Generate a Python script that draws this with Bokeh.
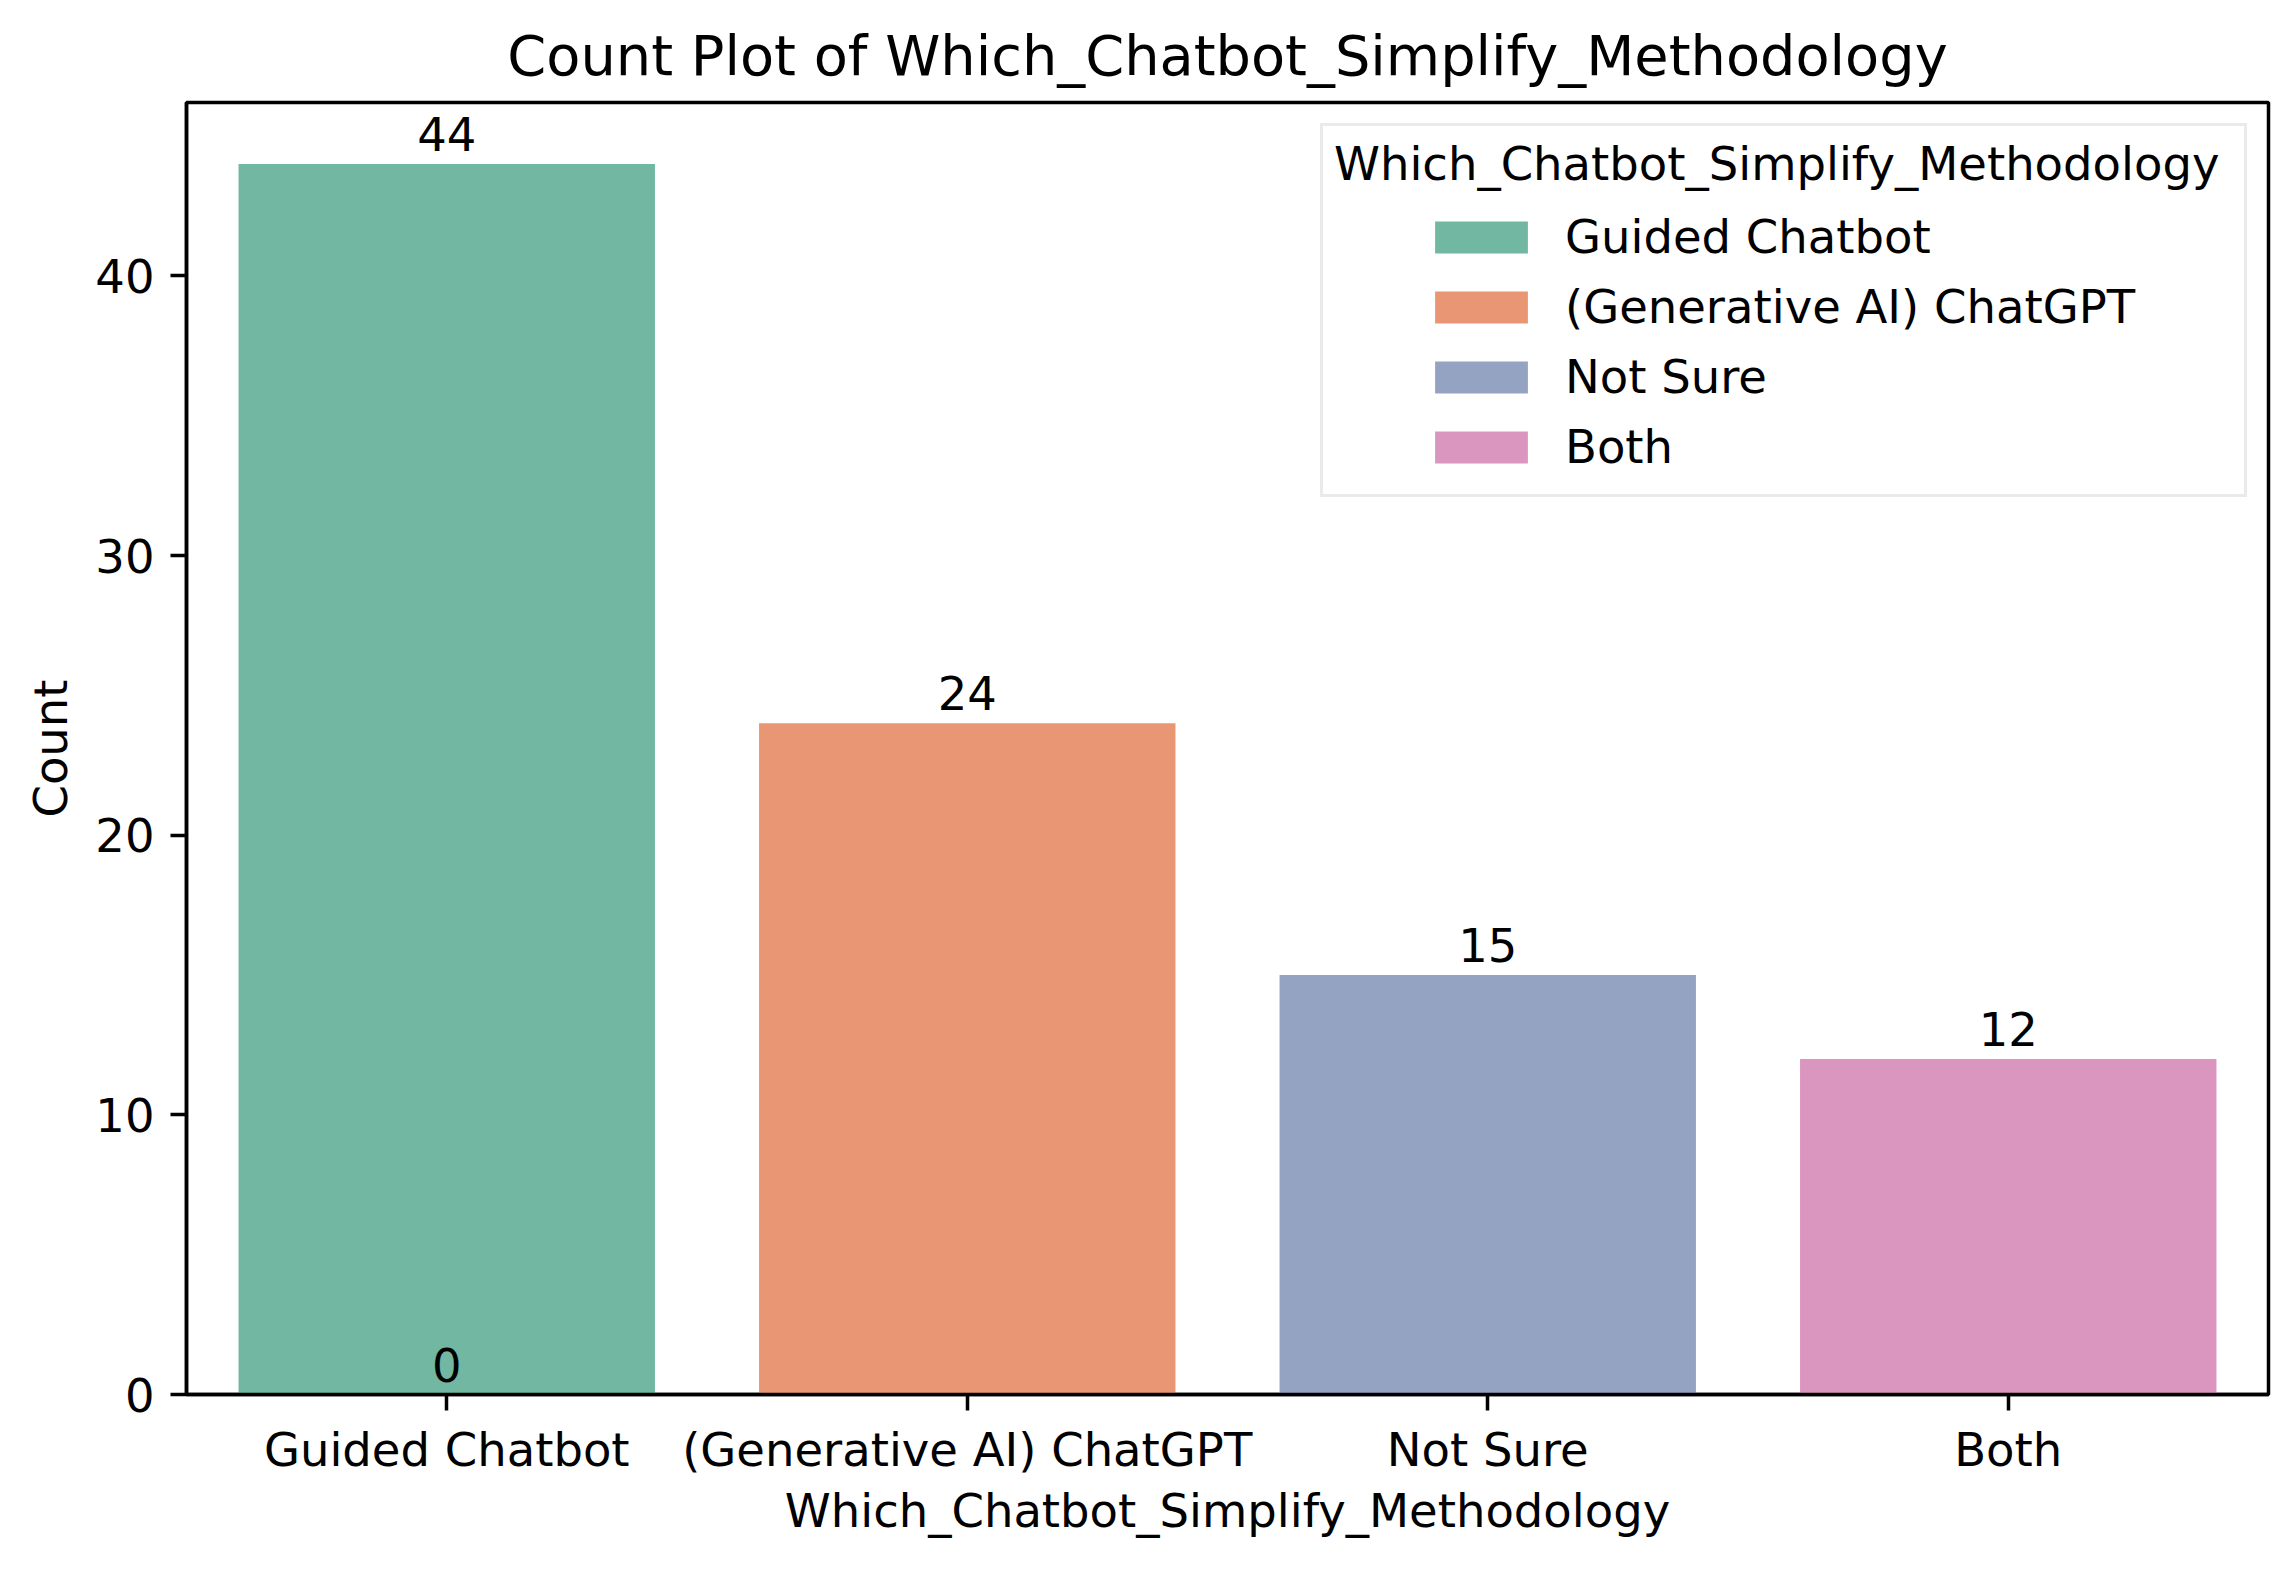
from bokeh.plotting import figure
from bokeh.models import FactorRange, Range1d, FixedTicker, Legend, LegendItem, ColumnDataSource
from bokeh.core.properties import value
from bokeh.embed import file_html
from bokeh.resources import INLINE

# ---- data ----
categories = ["Guided Chatbot", "(Generative AI) ChatGPT", "Not Sure", "Both"]
counts = [44, 24, 15, 12]
bar_colors = ["#71b7a1", "#e99675", "#95a3c3", "#db96c0"]
# labels written by the bar-label call (one empty container gives a "0")
label_categories = ["Guided Chatbot", "(Generative AI) ChatGPT", "Not Sure", "Both", "Guided Chatbot"]
label_values = [44, 24, 15, 12, 0]
y_ticks = [0, 10, 20, 30, 40]
title_text = "Count Plot of Which_Chatbot_Simplify_Methodology"
x_label = "Which_Chatbot_Simplify_Methodology"
y_label = "Count"
legend_title = "Which_Chatbot_Simplify_Methodology"

FONT = "DejaVu Sans"
FS = "46.5px"
LW = 3.5

p = figure(width=2273, height=1555, output_backend="svg", toolbar_location=None,
           x_range=FactorRange(*categories, range_padding=0),
           y_range=Range1d(0, max(counts) * 1.05),
           min_border_left=186, min_border_right=5, min_border_top=102, min_border_bottom=161)
p.background_fill_color = "white"
p.border_fill_color = "white"
p.xgrid.visible = False
p.ygrid.visible = False
p.outline_line_color = "black"
p.outline_line_width = LW

p.title.text = title_text
p.title.text_font = FONT
p.title.text_font_size = "55.8px"
p.title.text_font_style = "normal"
p.title.text_color = "black"
p.title.align = "center"
p.title.standoff = 30

renderers = []
for i, c in enumerate(categories):
    r = p.vbar(x=[c], top=[counts[i]], width=0.8, fill_color=bar_colors[i], line_color=None)
    renderers.append(r)
# invisible twin used only to size the legend frame (items are drawn by a second legend)
ghost = p.vbar(x=categories, top=counts, width=0.8, fill_alpha=0, line_alpha=0)

lsrc = ColumnDataSource(dict(x=label_categories, y=label_values, t=[str(v) for v in label_values]))
p.text(x="x", y="y", text="t", source=lsrc, text_align="center", text_baseline="bottom",
       y_offset=-13, text_font=value(FONT), text_font_size=value(FS), text_color="black")

for ax in (p.xaxis[0], p.yaxis[0]):
    ax.axis_line_color = "black"
    ax.axis_line_width = LW
    ax.major_tick_line_color = "black"
    ax.major_tick_line_width = LW
    ax.major_tick_in = 0
    ax.major_tick_out = 16
    ax.minor_tick_line_color = None
    ax.major_label_text_font = FONT
    ax.major_label_text_font_size = FS
    ax.major_label_text_color = "black"
    ax.axis_label_text_font = FONT
    ax.axis_label_text_font_size = FS
    ax.axis_label_text_font_style = "normal"
    ax.axis_label_text_color = "black"

p.yaxis[0].ticker = FixedTicker(ticks=y_ticks)
p.yaxis[0].axis_label = y_label
p.yaxis[0].major_label_standoff = 16
p.yaxis[0].axis_label_standoff = 14
p.xaxis[0].axis_label = x_label
p.xaxis[0].major_label_standoff = 12
p.xaxis[0].axis_label_standoff = 4
p.xaxis[0].major_label_orientation = "horizontal"

GW, GH, SP = 116, 40, 16

# legend frame + title (rows kept blank; the visible rows come from the second legend)
frame_items = [LegendItem(label=" ", renderers=[ghost]) for c in categories]
legend_frame = Legend(items=frame_items, location="top_right", title=legend_title,
                      title_text_font=FONT, title_text_font_size=FS, title_text_font_style="normal",
                      title_text_color="black", title_standoff=22,
                      label_text_font=FONT, label_text_font_size=FS, label_text_alpha=0,
                      glyph_width=GW, glyph_height=54, label_standoff=26, label_width=757,
                      spacing=18, padding=11,
                      margin=21, border_line_color="#d6d6d6", border_line_width=LW,
                      background_fill_color="white", background_fill_alpha=0.8)
p.add_layout(legend_frame)

# visible items, centred under the title as in the original
items = [LegendItem(label=c, renderers=[renderers[i]]) for i, c in enumerate(categories)]
legend_items = Legend(items=items, location="top_right",
                      label_text_font=FONT, label_text_font_size=FS, label_text_color="black",
                      glyph_width=GW, glyph_height=GH, label_standoff=26, label_width=595,
                      spacing=SP, padding=0, margin=108,
                      border_line_alpha=0, background_fill_alpha=0)
p.add_layout(legend_items)

open("out.html", "w").write(file_html(p, INLINE))
